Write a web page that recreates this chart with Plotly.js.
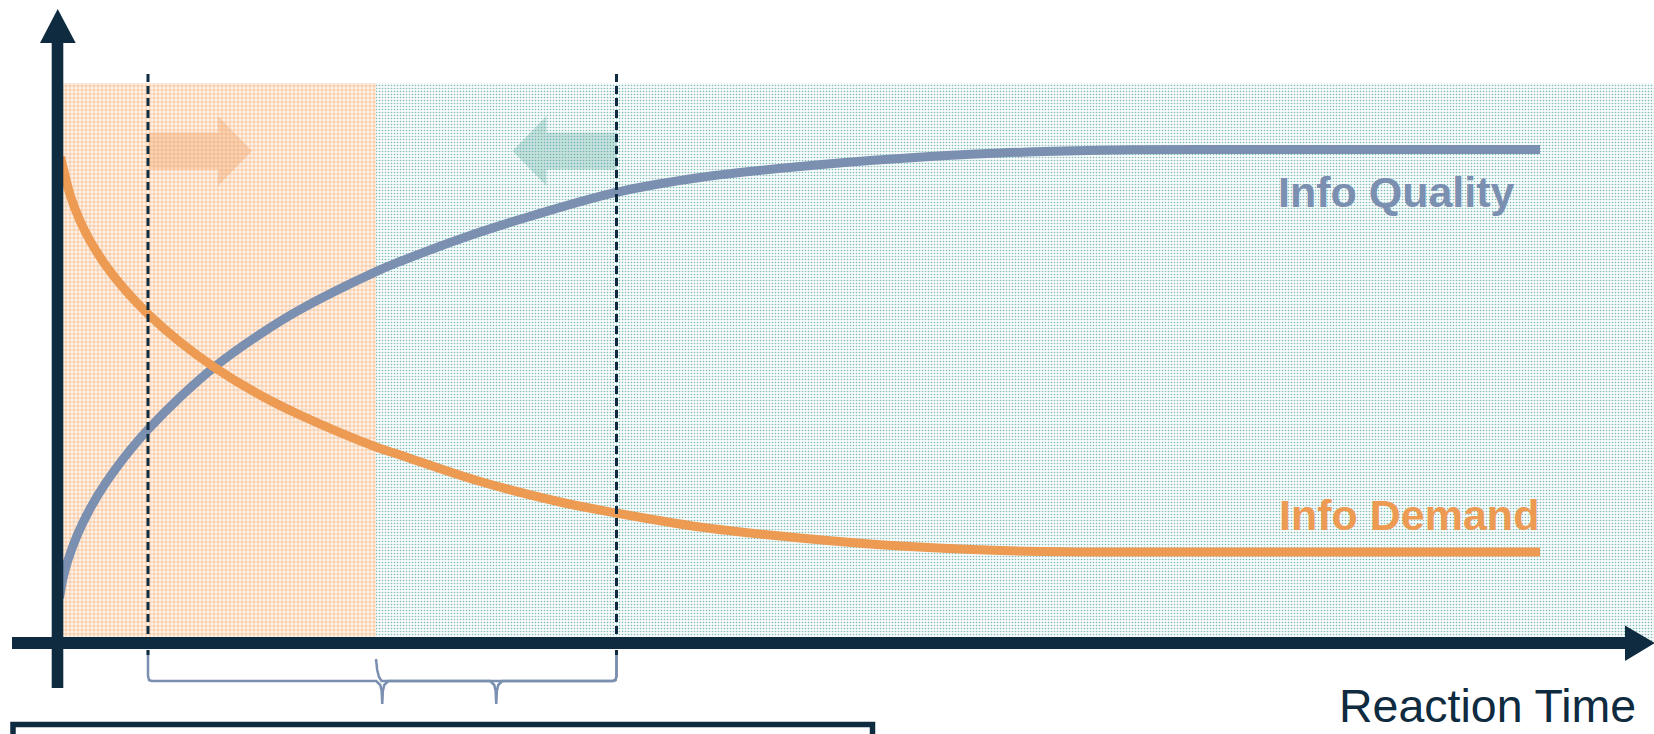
<!DOCTYPE html>
<html>
<head>
<meta charset="utf-8">
<script src="https://cdn.plot.ly/plotly-3.0.1.min.js"></script>
<style>html,body{margin:0;padding:0;background:#fff;}#chart{width:1654px;height:734px;}</style>
</head>
<body>
<div id="chart"></div>
<script>
// ---- data (x: reaction time units, y: value units) ----
const qualityX = [0.02, 0.055, 0.105, 0.20, 0.325, 0.475, 0.725, 0.905, 1.225, 1.575, 2.025, 2.425, 3.185, 3.425, 4.175, 4.755, 5.585, 6.425, 7.425, 8.425, 9.425, 10.425, 11.425, 14.825];
const qualityY = [0.45, 0.644, 0.83, 1.086, 1.342, 1.59, 1.927, 2.135, 2.458, 2.766, 3.088, 3.334, 3.714, 3.815, 4.092, 4.275, 4.506, 4.655, 4.765, 4.845, 4.90, 4.927, 4.935, 4.935];

const demandX = [0.03, 0.055, 0.125, 0.225, 0.325, 0.475, 0.675, 0.905, 1.225, 1.575, 2.025, 2.425, 3.185, 3.425, 4.175, 5.025, 5.585, 6.425, 7.425, 8.425, 9.425, 10.425, 14.825];
const demandY = [4.86, 4.76, 4.484, 4.222, 4.024, 3.787, 3.532, 3.29, 3.01, 2.753, 2.48, 2.28, 1.96, 1.88, 1.63, 1.41, 1.30, 1.16, 1.05, 0.97, 0.925, 0.91, 0.91];

const phaseStart = [0.055, 3.185];
const phaseEnd = [3.185, 15.965];
const phaseTop = 5.6;

const markerX = [0.905, 5.59];          // dashed vertical markers
const arrowDir = [1, -1];               // phase arrows
const braceFrom = [0.905, 3.185];
const braceTo = [5.59, 5.59];

const seriesLabels = ['Info Quality', 'Info Demand'];
const labelX = [12.185, 12.19];
const labelY = [4.515, 1.285];
const axisTitle = 'Reaction Time';

// ---- styling ----
const NAVY = '#0f2b40';
const BLUE = '#7b8fb1';
const ORANGE = '#ed9a52';
const XR = [-0.575, 15.965];
const YR = [-0.91, 6.43];

const traces = [];

// phase shading (bars)
traces.push({
  type: 'bar', x: [(phaseStart[0] + phaseEnd[0]) / 2], y: [phaseTop], base: [0],
  width: [phaseEnd[0] - phaseStart[0]],
  marker: {color: '#fdf2e9', line: {width: 0},
    pattern: {shape: '+', fgcolor: '#f3ab72', bgcolor: '#fdf2e9', size: 4, solidity: 0.26}},
  hoverinfo: 'skip'
});
traces.push({
  type: 'bar', x: [(phaseStart[1] + phaseEnd[1]) / 2], y: [phaseTop], base: [0],
  width: [phaseEnd[1] - phaseStart[1]],
  marker: {color: '#ffffff', line: {width: 0},
    pattern: {shape: '.', fgcolor: '#7dbcb5', bgcolor: '#f8fbfb', size: 3, solidity: 0.24}},
  hoverinfo: 'skip'
});

// phase arrows
function arrowPoly(x0, dir, len, yc, headLen, headHalf, shaftHalf) {
  const xb = x0 + dir * (len - headLen), xt = x0 + dir * len;
  return {
    x: [x0, xb, xb, xt, xb, xb, x0, x0],
    y: [yc + shaftHalf, yc + shaftHalf, yc + headHalf, yc, yc - headHalf, yc - shaftHalf, yc - shaftHalf, yc + shaftHalf]
  };
}
const arrowColors = ['rgba(240,150,85,0.32)', 'rgba(80,165,155,0.30)'];
markerX.forEach((mx, i) => {
  const p = arrowPoly(mx, arrowDir[i], 1.04, 4.92, 0.34, 0.35, 0.185);
  traces.push({type: 'scatter', mode: 'lines', x: p.x, y: p.y, fill: 'toself',
    fillcolor: arrowColors[i], line: {width: 0}, hoverinfo: 'skip'});
});

// curves
traces.push({type: 'scatter', mode: 'lines', x: qualityX, y: qualityY,
  line: {color: BLUE, width: 9, shape: 'spline', smoothing: 1}, hoverinfo: 'skip'});
traces.push({type: 'scatter', mode: 'lines', x: demandX, y: demandY,
  line: {color: ORANGE, width: 9, shape: 'spline', smoothing: 1}, hoverinfo: 'skip'});

// braces
function brace(a, b, topA, topB, level, tip) {
  const m = (a + b) / 2;
  const xs = [a, a, a + 0.01, a + 0.035, m - 0.06, m - 0.02, m - 0.006, m, m + 0.006, m + 0.02, m + 0.06, b - 0.035, b - 0.01, b, b];
  const ys = [topA, level + 0.05, level + 0.01, level, level, level - 0.04, level - 0.1, tip, level - 0.1, level - 0.04, level, level, level + 0.01, level + 0.05, topB];
  return {x: xs, y: ys};
}
const bA = brace(braceFrom[0], braceTo[0], -0.07, -0.07, -0.38, -0.61);
traces.push({type: 'scatter', mode: 'lines', x: bA.x, y: bA.y, line: {color: BLUE, width: 2.5}, hoverinfo: 'skip'});
const bB = brace(braceFrom[1], braceTo[1], -0.16, -0.07, -0.38, -0.61);
bB.x.splice(0, 4, braceFrom[1], braceFrom[1] + 0.012, braceFrom[1] + 0.03, braceFrom[1] + 0.055);
bB.y.splice(0, 4, -0.16, -0.27, -0.34, -0.38);
traces.push({type: 'scatter', mode: 'lines', x: bB.x, y: bB.y, line: {color: BLUE, width: 2.5}, hoverinfo: 'skip'});

// shapes: dashed markers, axes, arrowheads, bottom box
const shapes = [];
markerX.forEach(mx => {
  shapes.push({type: 'line', xref: 'x', yref: 'y', x0: mx, x1: mx, y0: 5.69, y1: -0.12,
    line: {color: NAVY, width: 3, dash: '8px,4px'}});
});
// x axis
shapes.push({type: 'line', xref: 'x', yref: 'y', x0: -0.455, x1: 15.70, y0: 0, y1: 0, line: {color: NAVY, width: 12}});
shapes.push({type: 'path', xref: 'x', yref: 'y',
  path: 'M 15.675 0.175 L 15.975 0 L 15.675 -0.18 Z', fillcolor: NAVY, line: {width: 0}});
// y axis
shapes.push({type: 'line', xref: 'x', yref: 'y', x0: 0, x1: 0, y0: -0.45, y1: 6.02, line: {color: NAVY, width: 11.6}});
shapes.push({type: 'path', xref: 'x', yref: 'y',
  path: 'M -0.175 6.00 L 0.002 6.34 L 0.182 6.00 Z', fillcolor: NAVY, line: {width: 0}});
// bottom box
shapes.push({type: 'rect', xref: 'x', yref: 'y', x0: -0.445, x1: 8.15, y0: -0.815, y1: -1.3,
  line: {color: NAVY, width: 5.5}, fillcolor: 'rgba(0,0,0,0)'});

const FONT = 'Liberation Sans, Arial, Helvetica, sans-serif';
const annotations = [
  {x: labelX[0], y: labelY[0], xref: 'x', yref: 'y', text: '<b>' + seriesLabels[0] + '</b>', showarrow: false,
    xanchor: 'left', yanchor: 'middle', font: {family: FONT, size: 43, color: BLUE}},
  {x: labelX[1], y: labelY[1], xref: 'x', yref: 'y', text: '<b>' + seriesLabels[1] + '</b>', showarrow: false,
    xanchor: 'left', yanchor: 'middle', font: {family: FONT, size: 43, color: ORANGE}},
  {x: 12.795, y: -0.905, xref: 'x', yref: 'y', text: axisTitle, showarrow: false,
    xanchor: 'left', yanchor: 'bottom', font: {family: FONT, size: 46.5, color: NAVY}}
];

const layout = {
  width: 1654, height: 734,
  margin: {l: 0, r: 0, t: 0, b: 0, pad: 0},
  paper_bgcolor: '#ffffff', plot_bgcolor: '#ffffff',
  showlegend: false, barmode: 'overlay',
  xaxis: {range: XR, visible: false, fixedrange: true},
  yaxis: {range: YR, visible: false, fixedrange: true},
  shapes: shapes, annotations: annotations
};

Plotly.newPlot('chart', traces, layout, {staticPlot: true, displayModeBar: false});
</script>
</body>
</html>
